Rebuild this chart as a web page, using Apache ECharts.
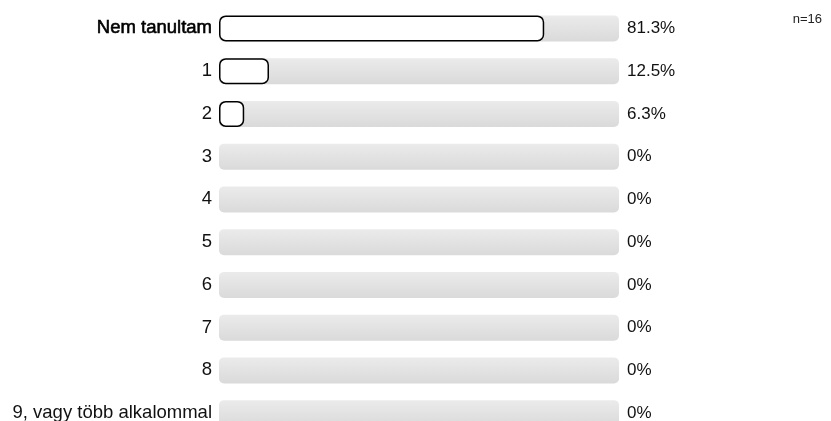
<!DOCTYPE html>
<html lang="hu">
  <head>
    <meta charset="UTF-8" />
    <script src="https://cdn.jsdelivr.net/npm/echarts@6/dist/echarts.min.js"></script>
    <title>Nem tanultam</title>
    <style>
      html, body { margin: 0; padding: 0; overflow: hidden; background: #fff; }
    </style>
  </head>
  <body>
    <div id="container" style="width: 831px; height: 440px;"></div>

    <script>
      const categories = [
        "Nem tanultam", "1", "2", "3", "4", "5", "6", "7", "8",
        "9, vagy több alkalommal",
      ];
      const percents = [81.3, 12.5, 6.3, 0, 0, 0, 0, 0, 0, 0];
      const sampleSize = "n=16";

      const myChart = echarts.init(document.getElementById("container"));
      const font = "Liberation Sans, Arial, sans-serif";

      const option = {
        animation: false,
        title: {
          text: sampleSize,
          right: 4,
          top: 8,
          textStyle: { fontFamily: font, fontSize: 13, fontWeight: "normal", color: "#222" },
        },
        grid: { left: 219, right: 212, top: 7, height: 427.5 },
        xAxis: { type: "value", min: 0, max: 100, show: false },
        yAxis: {
          type: "category",
          inverse: true,
          data: categories,
          axisLine: { show: false },
          axisTick: { show: false },
          axisLabel: {
            margin: 7,
            fontFamily: font,
            fontSize: 18.5,
            color: "#111",
            formatter: (v, i) => (i === 0 ? "{b|" + v + "}" : v),
            rich: {
              b: {
                fontFamily: font,
                fontSize: 18.5,
                color: "#000",
                textBorderColor: "#000",
                textBorderWidth: 0.6,
              },
            },
          },
        },
        series: [
          {
            // grey track behind every row
            type: "bar",
            barWidth: 26,
            barGap: "-100%",
            silent: true,
            data: categories.map(() => 100),
            itemStyle: {
              borderRadius: 5,
              color: new echarts.graphic.LinearGradient(0, 0, 0, 1, [
                { offset: 0, color: "#ebebeb" },
                { offset: 1, color: "#dadada" },
              ]),
            },
            label: {
              show: true,
              position: "right",
              distance: 8,
              fontFamily: font,
              fontSize: 17,
              color: "#111",
              formatter: (p) => percents[p.dataIndex] + "%",
            },
          },
          {
            type: "bar",
            barWidth: 26,
            data: percents.map((v) => (v > 0 ? v : "-")),
            itemStyle: {
              color: "#fff",
              borderColor: "#000",
              borderWidth: 1.5,
              borderRadius: 6,
            },
          },
        ],
      };

      myChart.setOption(option);
    </script>
  </body>
</html>
